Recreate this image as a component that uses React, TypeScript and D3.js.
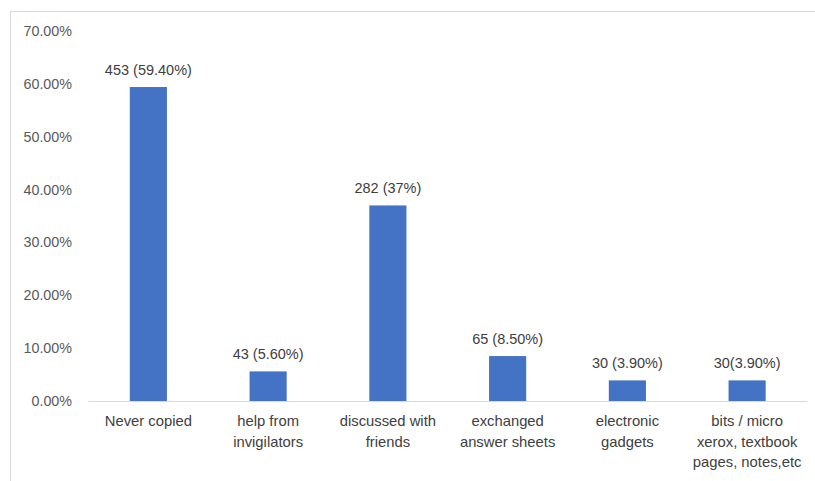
import React, { useEffect, useRef } from 'react';
import * as d3 from 'd3';

const categories: string[][] = [
  ['Never copied'],
  ['help from', 'invigilators'],
  ['discussed with', 'friends'],
  ['exchanged', 'answer sheets'],
  ['electronic', 'gadgets'],
  ['bits / micro', 'xerox, textbook', 'pages, notes,etc'],
];
const percents = [59.4, 5.6, 37, 8.5, 3.9, 3.9];
const valueLabels = ['453 (59.40%)', '43 (5.60%)', '282 (37%)', '65 (8.50%)', '30 (3.90%)', '30(3.90%)'];
const yTicks = [0, 10, 20, 30, 40, 50, 60, 70];

const W = 815;
const H = 481;
const FONT = '"Liberation Sans", Arial, sans-serif';

const App = () => {
  const svgRef = useRef<SVGSVGElement>(null);

  useEffect(() => {
    if (!svgRef.current) return;
    const svg = d3.select(svgRef.current);
    svg.selectAll('*').remove();

    const left = 88.5, right = 807, top = 31, bottom = 401;

    svg.append('rect')
      .attr('x', 10.5).attr('y', 11.5)
      .attr('width', W + 20).attr('height', H + 20)
      .attr('fill', '#fff').attr('stroke', '#d9d9d9');

    const x = d3.scaleBand<number>()
      .domain(d3.range(categories.length))
      .range([left, right])
      .paddingInner(0.69)
      .paddingOuter(0.345);

    const y = d3.scaleLinear().domain([0, 70]).range([bottom, top]);

    // y tick labels (no gridlines)
    svg.append('g')
      .selectAll('text')
      .data(yTicks)
      .enter().append('text')
      .attr('x', 72)
      .attr('y', d => y(d))
      .attr('dy', '0.35em')
      .attr('text-anchor', 'end')
      .style('font-family', FONT)
      .style('font-size', '14.3px')
      .style('fill', '#595959')
      .text(d => d.toFixed(2) + '%');

    svg.append('g')
      .selectAll('rect')
      .data(percents)
      .enter().append('rect')
      .attr('x', (d, i) => x(i)!)
      .attr('width', x.bandwidth())
      .attr('y', d => y(d))
      .attr('height', d => y(0) - y(d))
      .attr('fill', '#4472c4');

    svg.append('line')
      .attr('x1', left).attr('x2', right)
      .attr('y1', bottom + 0.5).attr('y2', bottom + 0.5)
      .attr('stroke', '#d9d9d9');

    svg.append('g')
      .selectAll('text')
      .data(percents)
      .enter().append('text')
      .attr('x', (d, i) => x(i)! + x.bandwidth() / 2)
      .attr('y', d => y(d) - 12)
      .attr('text-anchor', 'middle')
      .style('font-family', FONT)
      .style('font-size', '14.5px')
      .style('fill', '#404040')
      .text((d, i) => valueLabels[i]);

    const cat = svg.append('g')
      .selectAll('text')
      .data(categories)
      .enter().append('text')
      .attr('text-anchor', 'middle')
      .style('font-family', FONT)
      .style('font-size', '14.8px')
      .style('fill', '#404040');

    cat.each(function (lines, i) {
      const t = d3.select(this);
      lines.forEach((line, j) => {
        t.append('tspan')
          .attr('x', x(i)! + x.bandwidth() / 2)
          .attr('y', 426 + j * 20.7)
          .text(line);
      });
    });
  }, []);

  return (
    <svg
      ref={svgRef}
      width={W}
      height={H}
      style={{ position: 'absolute', left: 0, top: 0, background: '#fff' }}
    />
  );
};

export default App;
